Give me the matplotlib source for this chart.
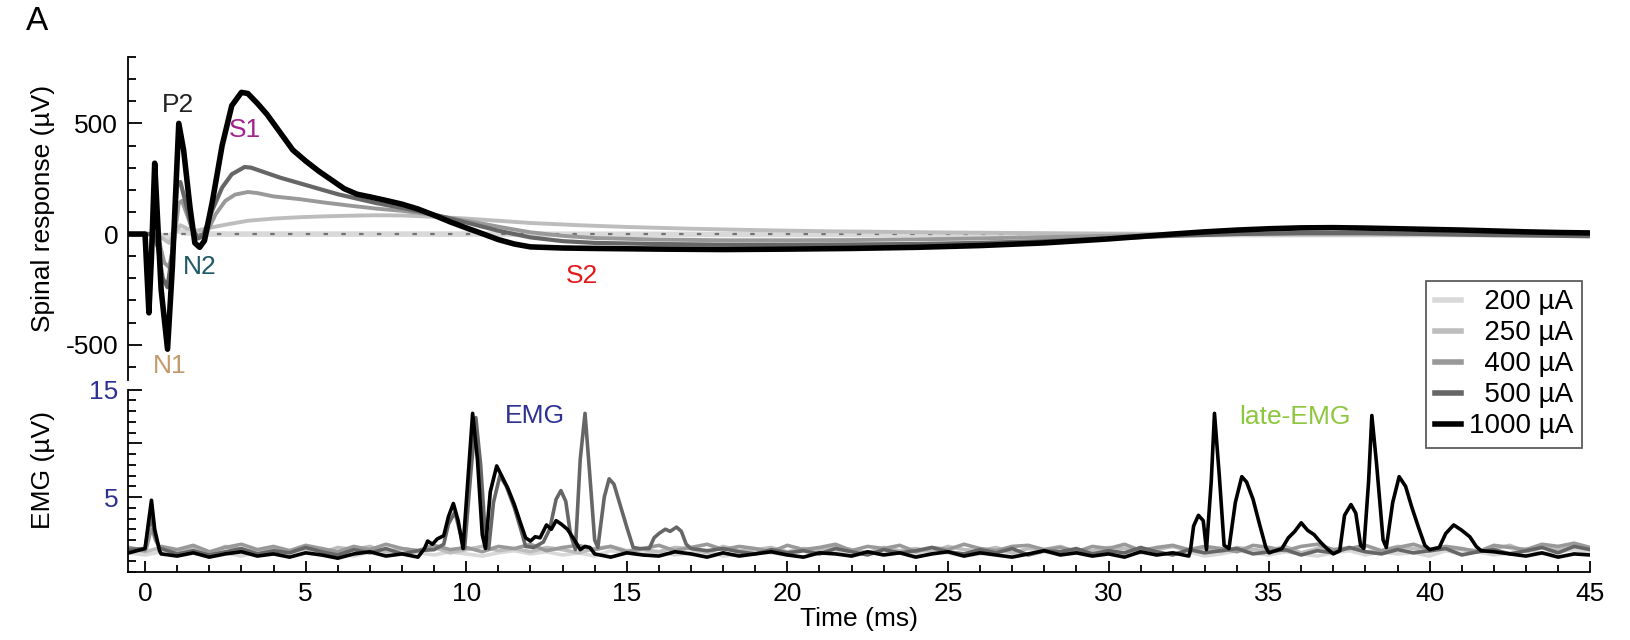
import numpy as np
import matplotlib.pyplot as plt
from matplotlib.ticker import MultipleLocator, FixedLocator, FixedFormatter
from matplotlib.lines import Line2D

plt.rcParams['font.family'] = ['Liberation Sans', 'DejaVu Sans']
plt.rcParams['axes.unicode_minus'] = False

# stimulation currents and trace colours (light -> dark)
currents = ['200 µA', '250 µA', '400 µA', '500 µA', '1000 µA']
colors = ['#d9d9d9', '#bdbdbd', '#999999', '#666666', '#000000']

# ---------------- spinal response (µV) ----------------
sp_200_t = [-0.5, 0.4, 0.7, 1.0, 1.3, 2.0, 10.0, 20.0, 30.0, 45.0]
sp_200_v = [0, 0, -15, 15, 5, 0, 0, -2, -3, -2]

sp_250_t = [-0.5, 0.35, 0.55, 0.75, 0.95, 1.1, 1.3, 1.6, 2.0, 2.6, 3.2, 4.0, 4.8, 5.6, 6.4,
            7.2, 8.0, 9.0, 10.0, 11.0, 12.0, 13.5, 15.0, 17.0, 19.0, 21.0, 23.0, 25.0, 27.0,
            30.0, 33.0, 36.0, 40.0, 45.0]
sp_250_v = [0, 0, -20, -40, 10, 40, 25, 15, 28, 45, 60, 70, 76, 80, 83,
            85, 84, 78, 70, 60, 50, 40, 32, 24, 18, 13, 10, 7, 5,
            2, 0, -2, -2, -2]

sp_400_t = [-0.5, 0.3, 0.45, 0.6, 0.75, 0.9, 1.05, 1.15, 1.3, 1.5, 1.7, 1.9, 2.2, 2.5, 2.8,
            3.2, 3.5, 4.0, 4.8, 5.6, 6.4, 7.2, 8.0, 8.8, 9.6, 10.4, 11.2, 12.0, 13.0, 14.0,
            16.0, 18.0, 20.0, 22.0, 24.0, 26.0, 28.0, 30.0, 32.0, 34.0, 36.0, 38.0, 40.0,
            42.0, 44.0, 45.0]
sp_400_v = [0, 0, -40, -130, -150, -40, 140, 150, 90, 10, -15, 0, 90, 150, 178,
            190, 185, 170, 158, 142, 128, 115, 105, 90, 70, 50, 28, 8, -8, -18,
            -25, -28, -28, -27, -24, -20, -14, -8, -3, 0, 2, 2, 0,
            -2, -3, -3]

sp_500_t = [-0.5, 0.25, 0.4, 0.55, 0.7, 0.85, 1.0, 1.1, 1.25, 1.45, 1.65, 1.8, 2.1, 2.4, 2.7,
            3.1, 3.3, 3.7, 4.2, 4.8, 5.4, 6.0, 6.6, 7.2, 8.0, 8.8, 9.5, 10.2, 11.0, 12.0,
            13.0, 14.0, 16.0, 18.0, 20.0, 22.0, 24.0, 26.0, 28.0, 30.0, 32.0, 34.0, 36.0,
            38.0, 40.0, 42.0, 44.0, 45.0]
sp_500_v = [0, 0, -60, -200, -240, -80, 220, 235, 150, 30, -20, -10, 110, 210, 270,
            303, 300, 280, 255, 230, 205, 180, 160, 140, 118, 95, 70, 45, 15, -15,
            -32, -40, -45, -48, -48, -47, -45, -40, -32, -20, -8, 0, 5,
            5, 0, -5, -8, -10]

sp_1000_t = [-0.5, 0.0, 0.05, 0.12, 0.2, 0.3, 0.36, 0.5, 0.7, 0.85, 1.05, 1.2, 1.4, 1.55, 1.7,
             1.85, 2.1, 2.4, 2.7, 3.0, 3.2, 3.5, 3.8, 4.2, 4.6, 5.0, 5.4, 5.8, 6.2, 6.6,
             7.0, 7.5, 8.0, 8.5, 9.0, 9.5, 10.0, 10.5, 11.0, 11.5, 12.0, 13.0, 14.0, 16.0,
             18.0, 20.0, 22.0, 24.0, 26.0, 28.0, 30.0, 32.0, 33.0, 34.0, 35.0, 36.0, 37.0,
             38.0, 39.0, 40.0, 41.0, 42.0, 43.0, 44.0, 45.0]
sp_1000_v = [0, 0, -150, -356, -100, 320, 150, -250, -520, -150, 500, 380, 120, -40, -60,
             -30, 150, 400, 580, 640, 635, 590, 540, 460, 380, 330, 285, 245, 205, 180,
             168, 152, 135, 113, 85, 55, 28, 2, -25, -45, -58, -63, -65, -68,
             -70, -68, -65, -60, -52, -40, -22, 0, 10, 18, 24, 28, 29,
             27, 24, 21, 18, 14, 10, 7, 5]

# ---------------- EMG (µV) ----------------
# quiet baseline, sampled every 0.5 ms from -0.5 to 45 ms
t_base = np.linspace(-0.5, 45, 92)
emg_200_base = [-0.2, -0.4, -0.1, -0.3, 0.0, -0.4, -0.2, -0.5, -0.1, -0.3,
                -0.2, 0.0, -0.4, -0.2, -0.5, -0.1, -0.3, 0.0, -0.2, -0.4,
                -0.1, -0.3, -0.5, -0.2, 0.0, -0.3, -0.1, -0.4, -0.2, -0.5,
                0.0, -0.2, -0.3, -0.1, -0.4, -0.2, 0.0, -0.5, -0.3, -0.1,
                -0.2, -0.4, 0.0, -0.3, -0.1, -0.5, -0.2, -0.3, 0.0, -0.4,
                -0.1, -0.2, -0.5, -0.3, 0.0, -0.2, -0.4, -0.1, -0.3, -0.2,
                -0.5, 0.0, -0.3, -0.1, -0.4, -0.2, -0.1, -0.5, -0.3, 0.0,
                -0.2, -0.4, -0.1, -0.3, -0.5, -0.2, 0.0, -0.4, -0.1, -0.3,
                -0.2, -0.5, 0.0, -0.3, -0.1, -0.4, -0.2, 0.2, -0.3, -0.1,
                0.1, -0.2]
emg_250_base = [0.2, -0.1, 0.3, 0.0, 0.2, -0.2, 0.4, 0.1, -0.1, 0.3,
                0.0, 0.2, -0.2, 0.3, 0.1, 0.4, -0.1, 0.2, 0.0, 0.3,
                -0.2, 0.1, 0.4, 0.0, 0.2, -0.1, 0.3, 0.1, -0.2, 0.2,
                0.4, 0.0, 0.1, -0.1, 0.3, 0.2, -0.2, 0.4, 0.0, 0.1,
                0.3, -0.1, 0.2, 0.0, 0.4, 0.1, -0.2, 0.3, 0.0, 0.2,
                -0.1, 0.4, 0.1, 0.0, 0.3, -0.2, 0.2, 0.1, 0.4, -0.1,
                0.0, 0.3, 0.2, -0.2, 0.1, 0.4, 0.0, 0.2, -0.1, 0.3,
                0.1, 0.0, 0.4, -0.2, 0.2, 0.1, 0.3, -0.1, 0.0, 0.4,
                0.2, -0.1, 0.3, 0.1, 0.0, 0.2, 0.5, -0.1, 0.3, 0.1,
                0.4, 0.2]
emg_400_base = [0.3, 0.0, 0.4, 0.1, 0.5, -0.1, 0.3, 0.6, 0.1, 0.4,
                0.0, 0.5, 0.2, -0.1, 0.4, 0.1, 0.6, 0.2, 0.0, 0.5,
                0.1, 0.3, -0.1, 0.4, 0.2, 0.6, 0.0, 0.3, 0.5, 0.1,
                0.4, -0.1, 0.2, 0.5, 0.0, 0.3, 0.6, 0.1, 0.4, 0.2,
                -0.1, 0.5, 0.1, 0.3, 0.6, 0.0, 0.4, 0.2, 0.5, -0.1,
                0.3, 0.1, 0.6, 0.2, 0.0, 0.4, 0.5, 0.1, 0.3, -0.1,
                0.4, 0.2, 0.6, 0.0, 0.3, 0.5, 0.1, 0.4, 0.2, -0.1,
                0.5, 0.3, 0.0, 0.4, 0.6, 0.1, 0.2, 0.5, 0.0, 0.3,
                0.6, 0.1, 0.4, 0.2, -0.1, 0.5, 0.3, 0.1, 0.6, 0.4,
                0.7, 0.3]
emg_500_base = [0.1, -0.2, 0.2, -0.3, 0.0, -0.4, -0.1, 0.2, -0.3, 0.0,
                -0.2, 0.3, -0.1, -0.4, 0.1, -0.2, 0.2, -0.3, 0.0, -0.1,
                0.3, -0.2, 0.0, -0.4, 0.1, -0.1, -0.3, 0.2, -0.2, 0.0,
                -0.3, 0.1, -0.1, 0.3, -0.2, -0.4, 0.0, 0.2, -0.1, -0.3,
                0.1, -0.2, 0.0, -0.3, 0.2, -0.1, -0.4, 0.1, -0.2, 0.0,
                0.3, -0.1, -0.3, 0.1, -0.2, 0.2, -0.4, 0.0, -0.1, 0.2,
                -0.3, 0.0, -0.2, 0.3, -0.1, -0.4, 0.1, -0.2, 0.0, 0.2,
                -0.3, -0.1, 0.1, -0.4, 0.0, -0.2, 0.3, -0.1, -0.3, 0.1,
                -0.2, 0.0, 0.2, -0.4, -0.1, 0.1, -0.3, 0.0, 0.3, -0.2,
                0.4, 0.1]
emg_1000_base = [-0.2, 0.1, -0.3, -0.5, -0.2, -0.6, -0.3, -0.1, -0.5, -0.3,
                 -0.6, -0.2, -0.4, -0.7, -0.3, -0.1, -0.5, -0.3, -0.6, -0.2,
                 -0.4, 0.0, -0.5, -0.3, -0.6, -0.2, -0.4, -0.1, -0.5, -0.3,
                 -0.6, -0.2, -0.4, -0.5, -0.1, -0.3, -0.6, -0.2, -0.5, -0.3,
                 -0.1, -0.4, -0.6, -0.2, -0.3, -0.5, -0.1, -0.4, -0.2, -0.6,
                 -0.3, -0.1, -0.5, -0.2, -0.4, -0.6, -0.3, 0.0, -0.4, -0.2,
                 -0.5, -0.3, -0.6, -0.1, -0.4, -0.2, -0.5, -0.3, -0.1, -0.6,
                 -0.3, -0.2, -0.4, -0.1, -0.5, -0.3, -0.6, -0.2, -0.4, -0.1,
                 -0.5, -0.3, -0.2, -0.6, -0.4, -0.1, -0.3, -0.5, -0.2, -0.6,
                 -0.3, -0.4]

# bursts as (time ms, amplitude µV)
emg_400_bursts = [
    [(0.05, 0.3), (0.15, 1.5), (0.22, 2.0), (0.32, 1.0), (0.45, 0.3)],
]
emg_500_bursts = [
    [(0.0, 0.2), (0.1, 2.0), (0.2, 3.1), (0.3, 1.5), (0.45, 0.2)],
    [(9.0, 0.1), (9.3, 0.6), (9.45, 2.5), (9.65, 3.6), (9.8, 1.8), (9.95, 0.2), (10.15, 7.5),
     (10.3, 12.4), (10.45, 8.0), (10.6, 1.2), (10.7, 0.2), (10.85, 4.5), (11.05, 7.0),
     (11.25, 6.0), (11.5, 4.0), (11.7, 2.0), (11.85, 0.4), (12.1, 0.3), (12.4, 0.8),
     (12.6, 2.0), (12.8, 4.8), (12.95, 5.6), (13.1, 4.6), (13.25, 1.5), (13.4, 0.1),
     (13.55, 8.5), (13.7, 12.8), (13.85, 7.0), (14.0, 1.0), (14.1, 0.3), (14.3, 5.0),
     (14.45, 6.7), (14.6, 6.2), (14.8, 4.2), (15.0, 2.2), (15.2, 0.3), (15.4, 0.2),
     (15.7, 0.2), (15.85, 1.2), (16.0, 1.6), (16.2, 2.0), (16.35, 1.8), (16.55, 2.2),
     (16.7, 1.8), (16.85, 0.6), (17.0, 0.2)],
]
emg_1000_bursts = [
    [(0.0, 0.2), (0.1, 2.5), (0.2, 4.7), (0.3, 2.0), (0.45, 0.0)],
    [(8.7, 0.2), (8.8, 0.9), (8.95, 0.6), (9.1, 1.1), (9.3, 1.4), (9.45, 3.2), (9.6, 4.4),
     (9.75, 2.8), (9.9, 0.2), (10.05, 6.5), (10.2, 12.8), (10.35, 8.5), (10.5, 1.5),
     (10.6, 0.2), (10.75, 5.5), (10.95, 7.9), (11.1, 7.0), (11.3, 5.8), (11.5, 4.3),
     (11.7, 2.5), (11.85, 1.2), (12.0, 0.9), (12.15, 1.3), (12.3, 1.2), (12.5, 2.4),
     (12.65, 2.0), (12.8, 2.8), (12.95, 2.5), (13.15, 2.0), (13.35, 1.1), (13.55, 0.1),
     (13.7, 0.4), (13.85, 0.3)],
    [(32.55, 0.0), (32.65, 2.3), (32.8, 3.3), (32.95, 2.8), (33.05, 0.1), (33.2, 6.5),
     (33.3, 12.8), (33.45, 7.0), (33.6, 0.5), (33.75, 0.2), (33.95, 4.5), (34.15, 6.9),
     (34.3, 6.4), (34.5, 4.8), (34.7, 2.5), (34.9, 0.3)],
    [(35.4, 0.2), (35.6, 1.2), (35.8, 1.8), (36.0, 2.6), (36.2, 1.9), (36.4, 1.5),
     (36.6, 0.8), (36.8, 0.2)],
    [(37.2, 0.0), (37.35, 3.3), (37.55, 4.3), (37.7, 3.5), (37.85, 0.5), (37.95, 0.2),
     (38.1, 6.5), (38.2, 12.6), (38.35, 8.0), (38.55, 1.0), (38.65, 0.3), (38.85, 4.5),
     (39.05, 6.9), (39.25, 6.0), (39.45, 4.0), (39.65, 2.2), (39.85, 0.5), (40.0, 0.1)],
    [(40.3, 0.3), (40.5, 1.6), (40.75, 2.4), (41.0, 1.9), (41.25, 1.3), (41.45, 0.4),
     (41.6, 0.0)],
]


def with_bursts(base_v, bursts):
    t = np.asarray(t_base, dtype=float)
    v = np.asarray(base_v, dtype=float)
    keep = np.ones(len(t), dtype=bool)
    ts, vs = [], []
    for seg in bursts:
        s = np.array(seg, dtype=float)
        keep &= ~((t >= s[0, 0]) & (t <= s[-1, 0]))
        ts.append(s[:, 0])
        vs.append(s[:, 1])
    ts = np.concatenate([t[keep]] + ts)
    vs = np.concatenate([v[keep]] + vs)
    o = np.argsort(ts)
    return ts[o], vs[o]


spinal = [(sp_200_t, sp_200_v), (sp_250_t, sp_250_v), (sp_400_t, sp_400_v),
          (sp_500_t, sp_500_v), (sp_1000_t, sp_1000_v)]
emg = [with_bursts(emg_200_base, []), with_bursts(emg_250_base, []),
       with_bursts(emg_400_base, emg_400_bursts), with_bursts(emg_500_base, emg_500_bursts),
       with_bursts(emg_1000_base, emg_1000_bursts)]

FS = 19
emg_blue = '#2e3192'

fig = plt.figure(figsize=(16.31, 6.4), dpi=100)
ax1 = fig.add_axes([0.0785, 0.406, 0.8965, 0.505])
ax2 = fig.add_axes([0.0785, 0.106, 0.8965, 0.285])

# spinal panel
sp_lw = [4.0, 2.8, 2.8, 3.0, 4.0]
for i, ((t, v), c, lw) in enumerate(zip(spinal, colors, sp_lw)):
    ax1.plot(t, v, color=c, lw=lw, solid_joinstyle='round', zorder=2 if i == 0 else 3)
ax1.axhline(0, color='0.45', lw=1.6, ls=(0, (2, 6)), zorder=2.5)
ax1.set_xlim(-0.53, 45)
ax1.set_ylim(-660, 800)
for s in ['top', 'right', 'bottom']:
    ax1.spines[s].set_visible(False)
ax1.spines['left'].set_linewidth(1.3)
ax1.tick_params(axis='x', bottom=False, labelbottom=False)
ax1.yaxis.set_major_locator(FixedLocator([-500, 0, 500]))
ax1.yaxis.set_minor_locator(MultipleLocator(100))
ax1.tick_params(axis='y', which='major', direction='in', length=10, width=1.3,
                labelsize=FS, pad=7)
ax1.tick_params(axis='y', which='minor', direction='in', length=5.5, width=1.3)
ax1.set_ylabel('Spinal response (µV)', fontsize=FS)
ax1.yaxis.set_label_coords(-0.05, 0.53)

ax1.text(1.03, 585, 'P2', color='#222222', fontsize=FS, ha='center', va='center')
ax1.text(3.1, 468, 'S1', color='#a3238e', fontsize=FS, ha='center', va='center')
ax1.text(1.7, -150, 'N2', color='#1f5a66', fontsize=FS, ha='center', va='center')
ax1.text(0.78, -595, 'N1', color='#c49a6c', fontsize=FS, ha='center', va='center')
ax1.text(13.6, -190, 'S2', color='#e31a1c', fontsize=FS, ha='center', va='center')

# EMG panel
for (t, v), c in zip(emg, colors):
    ax2.plot(t, v, color=c, lw=2.6, solid_joinstyle='round')
ax2.set_xlim(-0.53, 45)
ax2.set_ylim(-2, 15)
for s in ['top', 'right']:
    ax2.spines[s].set_visible(False)
ax2.spines['left'].set_linewidth(1.3)
ax2.spines['bottom'].set_linewidth(1.3)
ax2.yaxis.set_major_locator(FixedLocator([0, 5, 10, 15]))
ax2.yaxis.set_major_formatter(FixedFormatter(['', '5', '', '15']))
ax2.yaxis.set_minor_locator(MultipleLocator(1))
ax2.tick_params(axis='y', which='major', direction='in', length=10, width=1.3,
                labelsize=FS, pad=7, labelcolor=emg_blue)
ax2.tick_params(axis='y', which='minor', direction='in', length=5.5, width=1.3)
ax2.xaxis.set_major_locator(MultipleLocator(5))
ax2.xaxis.set_minor_locator(MultipleLocator(1))
ax2.tick_params(axis='x', which='major', direction='in', length=8, width=1.3,
                labelsize=FS, pad=7)
ax2.tick_params(axis='x', which='minor', direction='in', length=5, width=1.3)
ax2.set_ylabel('EMG (µV)', fontsize=FS)
ax2.yaxis.set_label_coords(-0.05, 0.56)
ax2.set_xlabel('Time (ms)', fontsize=FS, labelpad=1)

ax2.text(12.15, 12.6, 'EMG', color=emg_blue, fontsize=FS, ha='center', va='center')
ax2.text(35.8, 12.5, 'late-EMG', color='#8dc63f', fontsize=FS, ha='center', va='center')

# legend (figure spaces keep the labels right-aligned)
handles = [Line2D([], [], color=c, lw=4) for c in colors]
labels = [('\u2007' + s) if len(s.split()[0]) == 3 else s for s in currents]
leg = fig.legend(handles, labels, loc='upper right', bbox_to_anchor=(0.970, 0.561),
                 fontsize=20, frameon=True, fancybox=False, handlelength=0.95,
                 handletextpad=0.3, labelspacing=0.18, borderpad=0.3, borderaxespad=0)
leg.get_frame().set_edgecolor('#333333')
leg.get_frame().set_linewidth(1.3)

fig.text(0.016, 0.967, 'A', fontsize=24, ha='left', va='center')

fig.savefig('out.png', dpi=100)
